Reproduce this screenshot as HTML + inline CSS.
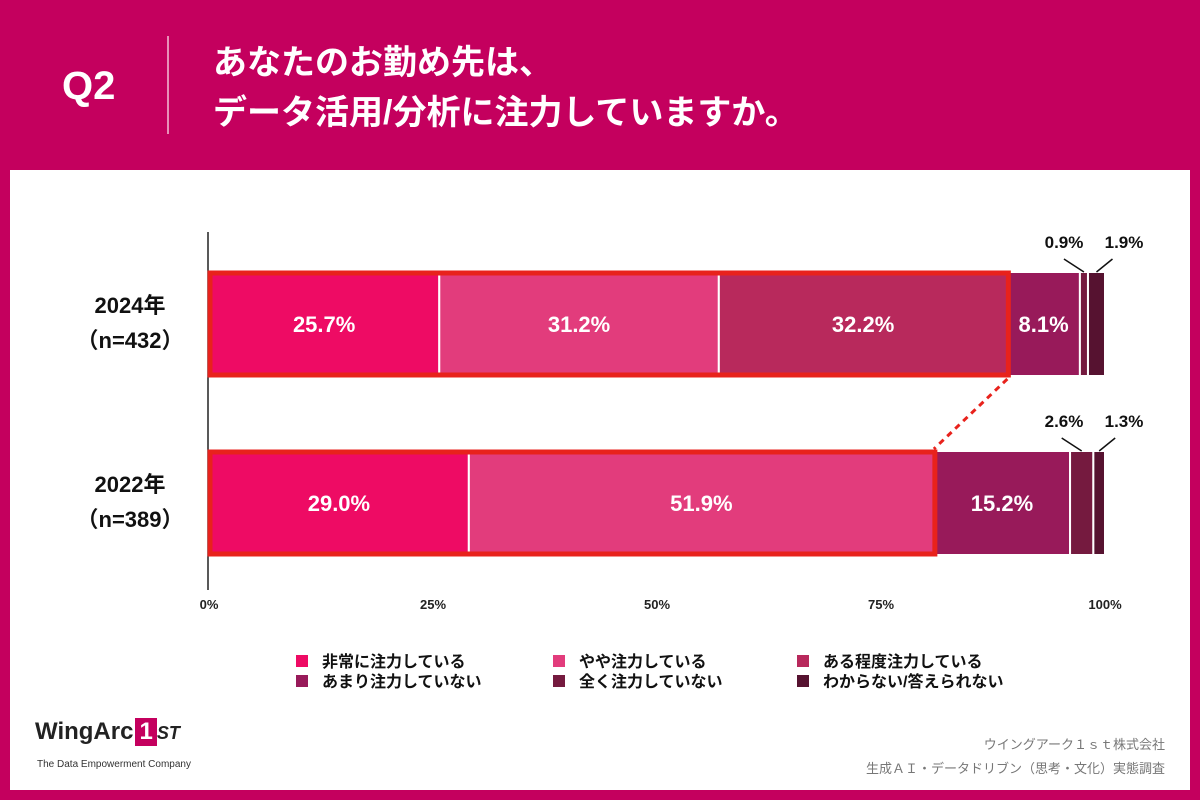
<!DOCTYPE html>
<html><head><meta charset="utf-8">
<style>
body{margin:0;width:1200px;height:800px;background:#c4005e;font-family:"Liberation Sans","Noto Sans CJK JP",sans-serif;overflow:hidden;position:relative}
.panel{position:absolute;left:10px;top:170px;width:1180px;height:620px;background:#fff}
.q{position:absolute;left:62px;top:64px;color:#fff;font-size:40px;font-weight:bold}
.sep{position:absolute;left:167px;top:36px;width:2px;height:98px;background:#e890b8}
.title{position:absolute;left:213px;top:38px;color:#fff;font-size:34px;font-weight:bold;line-height:50px;white-space:nowrap}
</style></head><body>
<div class="q">Q2</div>
<div class="sep"></div>
<div class="title">あなたのお勤め先は、<br>データ活用/分析に注力していますか。</div>
<div class="panel"></div>
<svg id="chart" width="1200" height="800" style="position:absolute;left:0;top:0"></svg>
<script>
const categories=["2024年|（n=432）","2022年|（n=389）"];
const seriesNames=["非常に注力している","やや注力している","ある程度注力している","あまり注力していない","全く注力していない","わからない/答えられない"];
const values2024=[25.7,31.2,32.2,8.1,0.9,1.9];
const values2022=[29.0,51.9,0,15.2,2.6,1.3];
const tickLabels=["0%","25%","50%","75%","100%"];
const tickValues=[0,25,50,75,100];
const highlightCount=[3,2];
const colors=["#ee0b64","#e23c7c","#b8295c","#981a5a","#751a3f","#561230"];
const NS="http://www.w3.org/2000/svg";
const svg=document.getElementById('chart');
const x0=209,x1=1105;
const xs=v=>x0+(x1-x0)*v/100;
const rowY=[272,451],barH=104;
function mk(t,a,p){const e=document.createElementNS(NS,t);for(const k in a)e.setAttribute(k,a[k]);(p||svg).appendChild(e);return e;}
let ax=mk('line',{x1:208,y1:232,x2:208,y2:590,stroke:'#222','stroke-width':1.5});


tickValues.forEach((v,i)=>{
 const t=mk('text',{x:xs(v),y:609,'text-anchor':'middle','font-size':13,'font-weight':'bold',fill:'#222'});
 t.textContent=tickLabels[i];
 
 
});
const data=[values2024,values2022];
data.forEach((vals,r)=>{
 const y=rowY[r];
 const lab=categories[r].split('|');
 lab.forEach((s,j)=>{
  const t=mk('text',{x:130,y:y+41+j*35,'text-anchor':'middle','font-size':22,'font-weight':'bold',fill:'#111'});
  t.textContent=s;
  
  
 });
 let cum=0;
 vals.forEach((v,i)=>{
  if(v<=0)return;
  const a=xs(cum),b=xs(cum+v);
  const rc=mk('rect',{x:a,y:y,width:b-a,height:barH,fill:colors[i],stroke:'#fff','stroke-width':2});
  
  
  if(v>=5){
   const t=mk('text',{x:(a+b)/2,y:y+barH/2+8,'text-anchor':'middle','font-size':22,'font-weight':'bold',fill:'#fff'});
   t.textContent=v.toFixed(1)+'%';
   
   
  }
  cum+=v;
 });
 const n=vals.length;
 [[n-2,-1],[n-1,1]].forEach(([i,dir])=>{
  let c=0;for(let k=0;k<i;k++)c+=vals[k];
  const mid=xs(c+vals[i]/2);
  const lx=dir<0?1064:1124;
  mk('line',{x1:mid,y1:y,x2:dir<0?mid-20:mid+16,y2:y-13,stroke:'#111','stroke-width':1.5});
  const t=mk('text',{x:lx,y:y-24,'text-anchor':'middle','font-size':17,'font-weight':'bold',fill:'#111'});
  t.textContent=vals[i].toFixed(1)+'%';
  
  
 });
 let hs=0;for(let k=0;k<highlightCount[r];k++)hs+=vals[k];
 const hb=mk('rect',{x:x0+1,y:y+1,width:xs(hs)-x0,height:barH-2,fill:'none',stroke:'#e8221c','stroke-width':5});
 
 
 data[r].hl=xs(hs);
});
const dl=mk('line',{x1:data[0].hl,y1:rowY[0]+barH+3,x2:data[1].hl,y2:rowY[1]-2,stroke:'#e8221c','stroke-width':3,'stroke-dasharray':'6,5'});


const lx=[296,553,797];
seriesNames.forEach((s,i)=>{
 const x=lx[i%3],y=655+(i>=3?20:0);
 const r=mk('rect',{x:x,y:y,width:12,height:12,fill:colors[i]});
 
 
 const t=mk('text',{x:x+26,y:y+12,'font-size':16,'font-weight':'bold',fill:'#111'});
 t.textContent=s;
 
 
});
</script>
<div style="position:absolute;left:35px;top:718px;font-size:24px;font-weight:bold;color:#222">WingArc<span style="display:inline-block;background:#c4005e;color:#fff;padding:0 4px;margin-left:2px">1</span><span style="font-style:italic;font-size:18px">ST</span></div>
<div style="position:absolute;left:37px;top:759px;font-size:10px;color:#333">The Data Empowerment Company</div>
<div style="position:absolute;right:35px;top:733px;text-align:right;font-size:13px;color:#777;line-height:24px">ウイングアーク１ｓｔ株式会社<br>生成ＡＩ・データドリブン（思考・文化）実態調査</div>
</body></html>
